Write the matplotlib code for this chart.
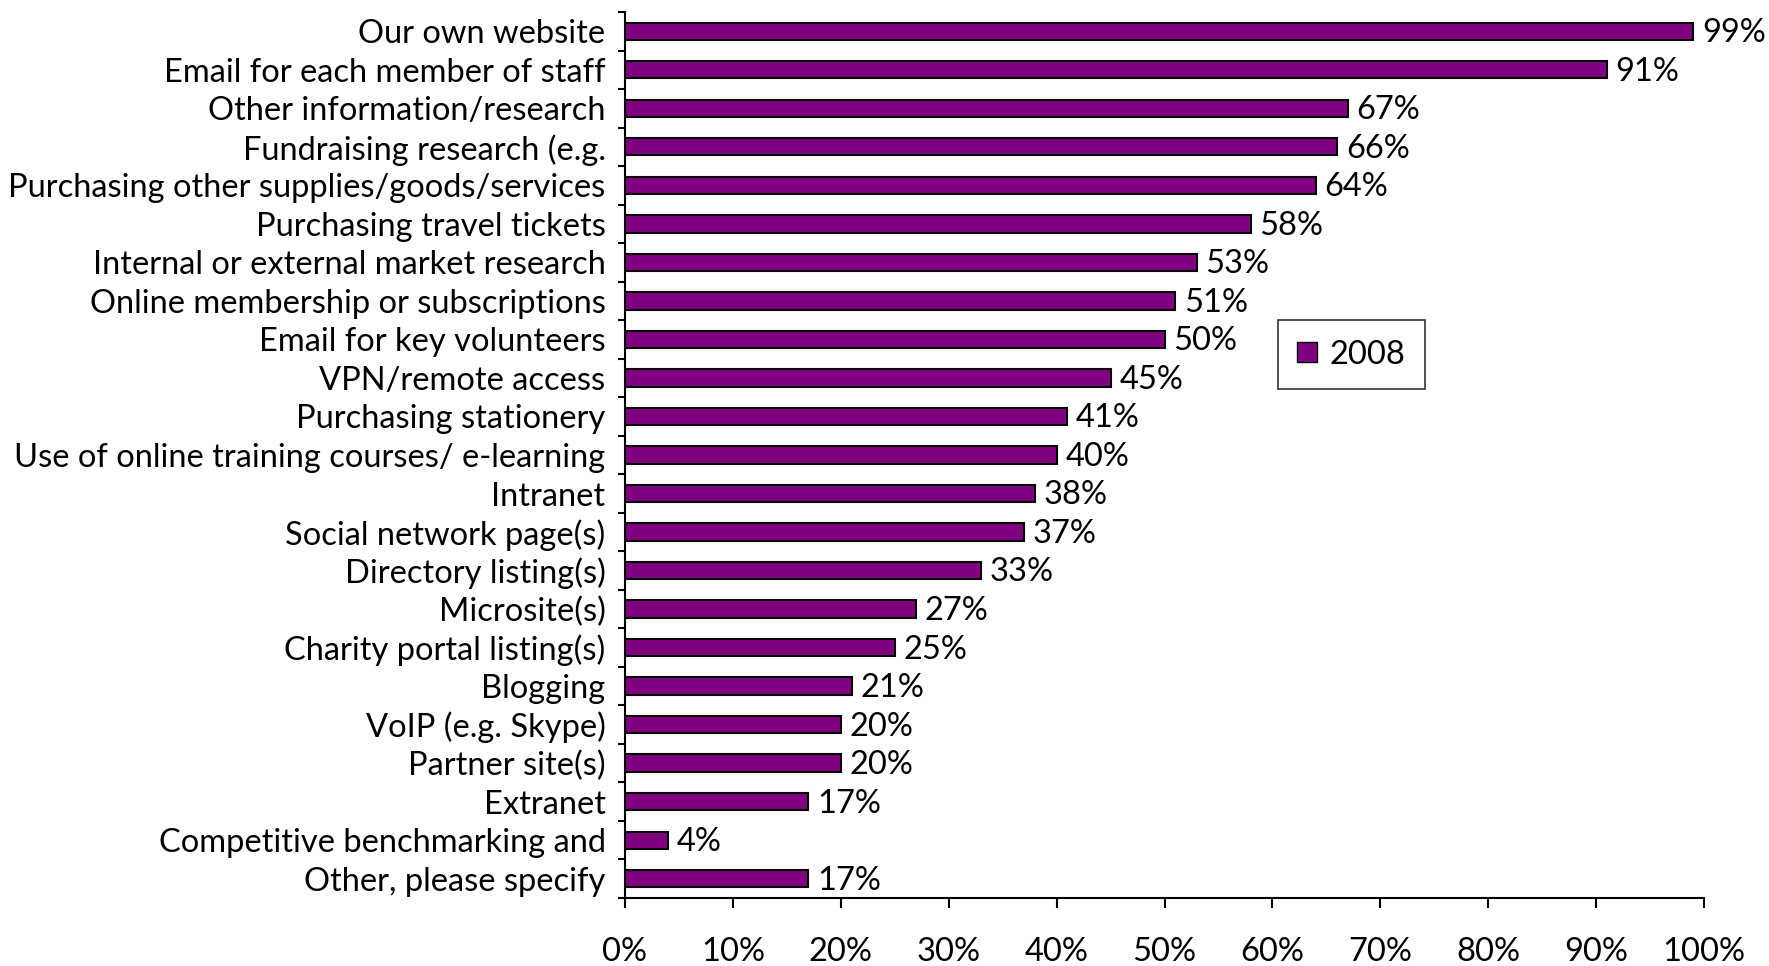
import matplotlib
matplotlib.use("Agg")
import matplotlib.pyplot as plt
import matplotlib.patches as mpatches
import numpy as np

plt.rcParams['font.family'] = ['Lato', 'DejaVu Sans']

# Dados
categories = [
    "Our own website",
    "Email for each member of staff",
    "Other information/research",
    "Fundraising research (e.g.",
    "Purchasing other supplies/goods/services",
    "Purchasing travel tickets",
    "Internal or external market research",
    "Online membership or subscriptions",
    "Email for key volunteers",
    "VPN/remote access",
    "Purchasing stationery",
    "Use of online training courses/ e-learning",
    "Intranet",
    "Social network page(s)",
    "Directory listing(s)",
    "Microsite(s)",
    "Charity portal listing(s)",
    "Blogging",
    "VoIP (e.g. Skype)",
    "Partner site(s)",
    "Extranet",
    "Competitive benchmarking and",
    "Other, please specify",
]
values_2008 = [99, 91, 67, 66, 64, 58, 53, 51, 50, 45, 41, 40, 38, 37, 33, 27, 25, 21, 20, 20, 17, 4, 17]
x_ticks = [0, 10, 20, 30, 40, 50, 60, 70, 80, 90, 100]
series_name = "2008"

bar_color = '#800080'
fs = 23.5

fig = plt.figure(figsize=(17.69, 9.66), dpi=100)
ax = fig.add_axes([0.3533, 0.0704, 0.61, 0.9172])

n = len(categories)
y = np.arange(n)
ax.barh(y, values_2008, height=0.45, color=bar_color, edgecolor='black',
        linewidth=1.5, label=series_name)

for yi, v in zip(y, values_2008):
    ax.text(v + 0.8, yi + 0.05, f"{v}%", va='center', ha='left', fontsize=fs)

ax.set_ylim(n - 0.5, -0.5)
ax.set_xlim(0, 100)

# ticks entre as categorias, rótulos no centro
ax.set_yticks(np.arange(n + 1) - 0.5)
ax.set_yticklabels([])
ax.set_yticks(y, minor=True)
ax.set_yticklabels(categories, minor=True, fontsize=fs)
ax.tick_params(axis='y', which='minor', length=0, pad=14)
ax.tick_params(axis='y', which='major', length=5, width=1.5, direction='out')

ax.set_xticks(x_ticks)
ax.set_xticklabels([f"{t}%" for t in x_ticks], fontsize=fs)
ax.tick_params(axis='x', length=7, width=1.5, direction='out', pad=21)

for s in ['top', 'right']:
    ax.spines[s].set_visible(False)
for s in ['left', 'bottom']:
    ax.spines[s].set_linewidth(1.5)

handles = [mpatches.Patch(facecolor=bar_color, edgecolor='black', label=series_name)]
leg = ax.legend(handles=handles, loc='center', bbox_to_anchor=(0.764, 0.633),
                bbox_transform=fig.transFigure, fontsize=fs, frameon=True,
                fancybox=False, edgecolor='black', handlelength=0.6,
                handleheight=0.6, handletextpad=0.4, borderpad=0.6)
leg.get_frame().set_linewidth(1.2)

fig.savefig("out.png", dpi=100)
